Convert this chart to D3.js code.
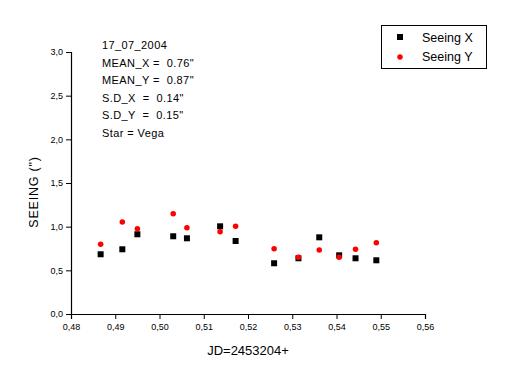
<!DOCTYPE html>
<html>
<head>
<meta charset="utf-8">
<script src="https://cdn.jsdelivr.net/npm/d3@7"></script>
<style>
  html, body { margin: 0; padding: 0; background: #fff; }
  svg { display: block; font-family: "Liberation Sans", Arial, sans-serif; }
</style>
</head>
<body>
<svg id="chart" width="513" height="382"></svg>
<script>
const jd = [0.4867, 0.4916, 0.4950, 0.5031, 0.5062, 0.5137, 0.5172, 0.5259, 0.5314, 0.5361, 0.5406, 0.5443, 0.5490];
const seeingX = [0.684, 0.741, 0.913, 0.890, 0.867, 1.004, 0.836, 0.581, 0.638, 0.878, 0.672, 0.638, 0.615];
const seeingY = [0.798, 1.053, 0.977, 1.149, 0.988, 0.942, 1.004, 0.748, 0.649, 0.733, 0.649, 0.741, 0.816];
const seriesNames = ["Seeing X", "Seeing Y"];
const xTicks = [0.48, 0.49, 0.50, 0.51, 0.52, 0.53, 0.54, 0.55, 0.56];
const yTicks = [0.0, 0.5, 1.0, 1.5, 2.0, 2.5, 3.0];
const xMinor = [0.485, 0.495, 0.505, 0.515, 0.525, 0.535, 0.545, 0.555];
const yMinor = [0.25, 0.75, 1.25, 1.75, 2.25, 2.75];
const notes = ["17_07_2004", "MEAN_X =  0.76\"", "MEAN_Y =  0.87\"", "S.D_X  =  0.14\"", "S.D_Y  =  0.15\"", "Star = Vega"];
const xTitle = "JD=2453204+";
const yTitle = "SEEING (\")";

const svg = d3.select("#chart");
svg.append("rect").attr("width", 513).attr("height", 382).attr("fill", "#fff");

const x = d3.scaleLinear().domain([0.48, 0.56]).range([71, 425]);
const y = d3.scaleLinear().domain([0, 3]).range([314, 52]);

const comma = f => v => f(v).replace(".", ",");

// minor ticks
const gx = svg.append("g").attr("transform", "translate(0,314)");
gx.call(d3.axisBottom(x).tickValues(xMinor).tickSize(3).tickFormat(""))
  .call(g => g.select(".domain").remove());
gx.call(d3.axisBottom(x).tickValues(xTicks).tickSize(5).tickPadding(3).tickFormat(comma(d3.format(".2f"))));

const gy = svg.append("g").attr("transform", "translate(71,0)");
gy.call(d3.axisLeft(y).tickValues(yMinor).tickSize(3).tickFormat(""))
  .call(g => g.select(".domain").remove());
gy.call(d3.axisLeft(y).tickValues(yTicks).tickSize(5).tickPadding(3).tickFormat(comma(d3.format(".1f"))));

svg.selectAll(".domain").attr("stroke", "#000").attr("stroke-width", 1.2);
svg.selectAll(".tick line").attr("stroke", "#000");
svg.selectAll(".tick text").attr("font-family", "Liberation Sans, Arial, sans-serif").attr("font-size", 9).attr("fill", "#000");
gx.selectAll(".tick text").attr("dy", "0.9em");

// axis titles
svg.append("text").attr("x", 248).attr("y", 355).attr("text-anchor", "middle")
  .attr("font-size", 13).text(xTitle);
svg.append("text").attr("transform", "translate(38,192) rotate(-90)").attr("text-anchor", "middle")
  .attr("font-size", 12.5).attr("letter-spacing", 0.8).text(yTitle);

// data
const ptsX = jd.map((d, i) => [d, seeingX[i]]);
const ptsY = jd.map((d, i) => [d, seeingY[i]]);
svg.append("g").selectAll("rect").data(ptsX).join("rect")
  .attr("x", d => x(d[0]) - 3).attr("y", d => y(d[1]) - 3)
  .attr("width", 6).attr("height", 6).attr("fill", "#000");
svg.append("g").selectAll("path").data(ptsY).join("path")
  .attr("transform", d => `translate(${x(d[0])},${y(d[1])})`)
  .attr("d", d3.symbol(d3.symbolCircle, 24)())
  .attr("fill", "#ff0000");

// notes
svg.append("g").selectAll("text").data(notes).join("text")
  .attr("x", 102).attr("y", (d, i) => 49 + i * 17.5)
  .attr("font-size", 11).attr("letter-spacing", 0.4).attr("xml:space", "preserve").style("white-space", "pre")
  .text(d => d);

// legend
const lg = svg.append("g");
lg.append("rect").attr("x", 381.5).attr("y", 25.5).attr("width", 105).attr("height", 43)
  .attr("fill", "#fff").attr("stroke", "#000");
lg.append("rect").attr("x", 397).attr("y", 34).attr("width", 6).attr("height", 6).attr("fill", "#000");
lg.append("path").attr("transform", "translate(400,57)").attr("d", d3.symbol(d3.symbolCircle, 24)()).attr("fill", "#ff0000");
lg.selectAll("text.l").data(seriesNames).join("text").attr("class", "l")
  .attr("x", 422).attr("y", (d, i) => 42 + i * 19).attr("font-size", 12.5).text(d => d);
</script>
</body>
</html>
